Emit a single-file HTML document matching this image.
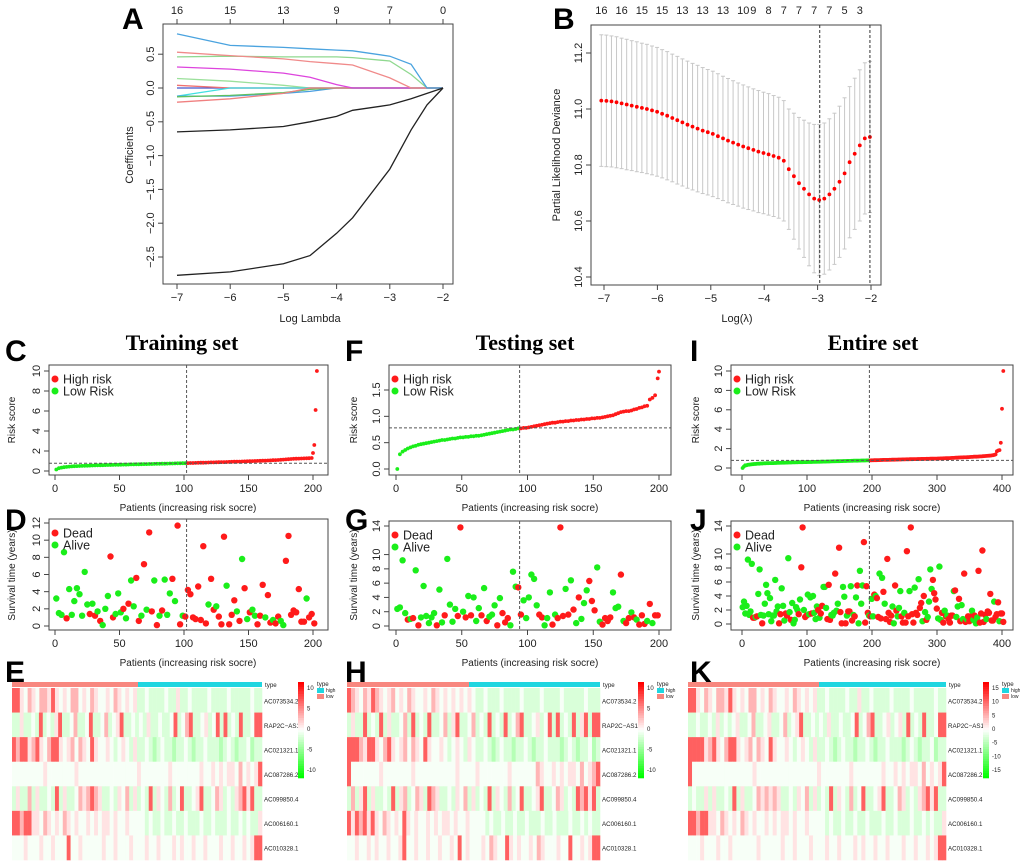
<!DOCTYPE html>
<html><head><meta charset="utf-8"><style>
html,body{margin:0;padding:0;background:#fff;}
svg{display:block;font-family:"Liberation Sans",Arial,sans-serif;}
.t{font-size:11px;fill:#222}
.lab{font-size:11px;fill:#222}
.lab2{font-size:10px;fill:#222}
.L{font-size:30px;font-weight:bold;fill:#000}
.ti{font-family:"Liberation Serif",serif;font-size:22px;font-weight:bold;fill:#000}
.hm{font-size:6.2px;fill:#222}
</style></head><body>
<svg id="fig" width="1020" height="865" viewBox="0 0 1020 865" xmlns="http://www.w3.org/2000/svg">
<text class="L" x="122" y="29">A</text>
<text class="L" x="553" y="29">B</text>
<text class="L" x="5" y="361">C</text>
<text class="L" x="5" y="530">D</text>
<text class="L" x="5" y="682">E</text>
<text class="L" x="345" y="361">F</text>
<text class="L" x="345" y="530">G</text>
<text class="L" x="345" y="682">H</text>
<text class="L" x="690" y="361">I</text>
<text class="L" x="690" y="530">J</text>
<text class="L" x="690" y="682">K</text>
<text class="ti" x="182" y="350" text-anchor="middle">Training set</text>
<text class="ti" x="525" y="350" text-anchor="middle">Testing set</text>
<text class="ti" x="873" y="350" text-anchor="middle">Entire set</text>
<text class="lab" x="310" y="322" text-anchor="middle">Log Lambda</text>
<text class="lab" transform="translate(133,155) rotate(-90)" text-anchor="middle">Coefficients</text>
<text class="lab" x="737" y="322" text-anchor="middle">Log(λ)</text>
<text class="lab" transform="translate(560,155) rotate(-90)" text-anchor="middle">Partial Likelihood Deviance</text>
<text class="lab2" x="188" y="511" text-anchor="middle">Patients (increasing risk socre)</text>
<text class="lab2" x="188" y="666" text-anchor="middle">Patients (increasing risk socre)</text>
<text class="lab2" x="530" y="511" text-anchor="middle">Patients (increasing risk socre)</text>
<text class="lab2" x="530" y="666" text-anchor="middle">Patients (increasing risk socre)</text>
<text class="lab2" x="872" y="511" text-anchor="middle">Patients (increasing risk socre)</text>
<text class="lab2" x="872" y="666" text-anchor="middle">Patients (increasing risk socre)</text>
<text class="lab2" transform="translate(15,420) rotate(-90)" text-anchor="middle">Risk score</text>
<text class="lab2" transform="translate(15,575) rotate(-90)" text-anchor="middle">Survival time (years)</text>
<text class="lab2" transform="translate(357,420) rotate(-90)" text-anchor="middle">Risk score</text>
<text class="lab2" transform="translate(357,575) rotate(-90)" text-anchor="middle">Survival time (years)</text>
<text class="lab2" transform="translate(699,420) rotate(-90)" text-anchor="middle">Risk score</text>
<text class="lab2" transform="translate(699,575) rotate(-90)" text-anchor="middle">Survival time (years)</text>
</svg>
<script>
// ---------- DATA ----------
const aLambda=[-7,-6,-5,-4.5,-4,-3.7,-3,-2.6,-2.3,-2];
const aCoefBlue=[0.80,0.63,0.60,0.58,0.56,0.55,0.47,0.35,0,0];
const aCoefPink=[0.53,0.48,0.43,0.39,0.36,0.34,0.15,0,0,0];
const aCoefGreen=[0.46,0.47,0.46,0.46,0.46,0.45,0.40,0.20,0,0];
const aCoefMagenta=[0.31,0.28,0.22,0.16,0.05,0,0,0,0,0];
const aCoefLtGreen=[0.14,0.10,0.04,0,0,0,0,0,0,0];
const aCoefRed2=[0.04,0,0,0,0,0,0,0,0,0];
const aCoefCyan=[-0.12,0,0,0,0,0,0,0,0,0];
const aCoefTeal=[-0.12,-0.12,-0.08,-0.05,0,0,0,0,0,0];
const aCoefGreen2=[-0.13,-0.11,-0.07,-0.02,0,0,0,0,0,0];
const aCoefRed3=[-0.21,-0.16,-0.08,0,0,0,0,0,0,0];
const aCoefBlack1=[-0.65,-0.62,-0.57,-0.50,-0.42,-0.33,-0.25,-0.16,-0.08,0];
const aCoefBlack2=[-2.77,-2.72,-2.60,-2.48,-2.15,-1.92,-1.20,-0.62,-0.25,0];
const aTopTicks=[-7,-6,-5,-4,-3,-2];
const aTopLabels=["16","15","13","9","7","0"];

const bMeans=[11.030,11.029,11.027,11.024,11.020,11.016,11.012,11.008,11.004,11.000,10.995,10.990,
10.983,10.976,10.968,10.960,10.952,10.944,10.937,10.930,10.923,10.917,10.911,
10.903,10.895,10.887,10.880,10.873,10.866,10.860,10.854,10.848,10.843,10.838,10.832,10.826,10.815,
10.785,10.760,10.735,10.715,10.695,10.680,10.675,10.680,10.695,10.715,10.740,10.770,10.810,10.840,10.870,10.895,10.900];
const bSE=[0.235,0.235,0.234,0.234,0.233,0.233,0.232,0.232,0.231,0.231,0.230,0.230,0.229,0.229,0.228,0.228,0.227,0.227,0.226,0.226,0.225,0.224,0.224,0.223,0.222,0.222,0.221,0.220,0.220,0.219,0.218,0.218,0.217,0.217,0.216,0.216,0.215,
0.215,0.225,0.235,0.245,0.255,0.265,0.270,0.270,0.270,0.270,0.270,0.270,0.270,0.270,0.270,0.270,0.270];
const bLogLambdaStart=-7.05, bLogLambdaStep=0.0949;
const bTopIdx=[0,4,8,12,16,20,24,28,30,33,36,39,42,45,48,51];
const bTopLabels=["16","16","15","15","13","13","13","10","9","8","7","7","7","7","5","3"];
const bVlines=[-2.96,-2.02];

const riskC=[0.15,0.28,0.34,0.38,0.41,0.44,0.46,0.48,0.49,0.50,0.51,0.52,0.53,0.54,0.55,0.56,0.57,0.57,0.58,0.59,
0.60,0.60,0.61,0.62,0.62,0.63,0.64,0.64,0.65,0.66,0.66,0.67,0.67,0.68,0.69,0.69,0.70,0.70,0.71,0.72,
0.72,0.73,0.73,0.74,0.75,0.75,0.76,0.77,0.77,0.78,0.78,0.79,0.80,0.80,0.81,0.82,0.83,0.83,0.84,0.85,
0.86,0.86,0.87,0.88,0.89,0.89,0.90,0.91,0.92,0.93,0.94,0.94,0.95,0.96,0.97,0.98,0.99,1.00,1.01,1.02,
1.03,1.04,1.05,1.06,1.08,1.09,1.10,1.12,1.14,1.16,1.18,1.20,1.22,1.23,1.24,1.25,1.26,1.27,1.28,1.30];
const riskCTail=[1.8,2.6,6.1,10.0];
const cutC=102, thrC=0.78;
const survC=[3.2,1.5,1.3,8.6,0.9,4.3,1.3,2.9,4.4,3.7,1.2,6.3,2.5,1.4,2.6,1.2,1.7,0.6,0.1,2.0,3.5,8.1,1.0,1.4,3.8,1.6,2.0,0.9,2.6,5.3,2.3,5.6,0.6,1.2,7.2,1.9,10.9,1.7,5.3,0.1,1.2,1.8,5.4,1.3,3.8,5.5,2.9,11.7,0.2,1.2,1.1,
4.2,3.7,1.0,0.8,4.6,0.7,9.3,0.3,2.5,5.5,1.9,2.3,1.1,0.2,10.4,4.7,0.2,1.3,3.0,1.7,0.6,7.8,4.4,0.8,1.6,1.9,1.2,0.2,1.2,4.8,1.0,3.6,0.4,0.7,0.3,1.1,0.6,0.1,7.6,10.5,1.3,1.8,1.6,4.3,0.5,0.5,3.2,1.0,1.4,0.3];
const deadC="000010000000010101000110001010011010110101000101101"+"11111111011011101110101010011101101100111111110111";

const riskF=[0.00,0.28,0.33,0.36,0.39,0.41,0.43,0.44,0.46,0.47,0.48,0.49,0.50,0.51,0.52,0.53,0.54,0.55,0.55,0.56,
0.57,0.58,0.58,0.59,0.60,0.60,0.61,0.61,0.62,0.62,0.63,0.63,0.64,0.65,0.66,0.67,0.68,0.69,0.70,0.71,
0.72,0.73,0.74,0.75,0.75,0.76,0.77,0.77,0.78,0.78,0.79,0.80,0.81,0.82,0.83,0.84,0.85,0.86,0.87,0.88,
0.88,0.89,0.90,0.90,0.91,0.91,0.92,0.92,0.93,0.93,0.94,0.94,0.95,0.95,0.96,0.96,0.97,0.97,0.98,0.99,
1.00,1.01,1.02,1.04,1.06,1.08,1.09,1.10,1.10,1.11,1.13,1.14,1.16,1.17,1.19,1.20,1.32,1.35,1.40,1.72];
const riskFTail=[1.85];
const cutF=94, thrF=0.78;
const survF=[2.4,2.6,9.2,1.8,0.9,1.0,1.1,7.8,0.1,1.2,5.6,1.4,0.4,1.2,1.8,0.1,5.1,0.5,1.5,9.4,3.0,0.6,2.4,1.4,13.8,2.0,1.2,4.2,1.5,4.0,0.7,2.5,1.5,5.3,0.7,1.3,1.6,2.9,0.1,3.9,1.8,0.5,1.1,0.1,7.6,5.5,5.4,1.6,3.6,1.1,
4.0,7.2,6.6,2.9,1.6,1.2,0.1,1.1,4.7,0.2,1.6,1.1,13.8,1.4,5.2,1.6,6.4,2.3,0.4,4.0,1.0,3.2,5.0,6.3,3.5,2.2,8.2,0.6,0.2,1.1,0.7,1.2,4.7,2.5,2.7,7.2,0.7,0.4,1.1,1.9,1.2,0.9,0.2,1.5,0.3,0.7,3.1,0.4,1.5,1.5];
const deadF="00001010100000010010000110101000101000101110001100"+"00001100010111010101000111001111000101101011101011";

const cutI=196, thrI=0.78;

const hmGenes=["AC073534.2","RAP2C\u2212AS1","AC021321.1","AC087286.2","AC099850.4","AC006160.1","AC010328.1"];
const hmE=[
"RRp.rp.rrpRp.p.rr.p.rp..p.rp.p.pgg.gggg.ggpgg.gggg.gggg.ggggg.gg",
"ggpgg.gRg.gpRgg.rgg.Rgg.rg.pRgg.g.gpgg.gg.Rg.rRgg.pg.RgRg.gRgg.RR",
"RrRRprRp.rRRp.pr.rp.Rp..p.g.p.gpgg.gGg.ggGgg.gGgg.gggGg.gGgg.Ggg",
"........p.......p...............p.......p.......p..p.p.pp.r.p.pR",
"gpggrgpgg.gRgpgg.rprRrpgg.gp.rgpg.gRgp.grg.Rgg.pRgg.rpg.gprRpRgg",
"RRrRRpp.rp.p.rp.p..p.p.pp.p..p....g.gg.gg.gg.ggg.gg.ggg.gg.g.ggp",
"...p...p..p...R..p.....p..p...p...p..p...p.p..p..p...p..p..p.pRR"];
const hmH=[
"Rrp.rpRrp.pr.p.rp..p.rp.p.p.p.p.gg.ggg.gggg.gggg.gggg.ggggg.ggg",
"gpggRg.gRgpgg.rgRg.gRgg.rgpRgg.rg.gRg.gRg.rRgg.pg.RgRg.gRgpRgRR",
"RRRrpRRp.rRp.pr.rp.Rp..p.g.p.gp.gg.gGg.ggGgg.gGgg.gggGg.gGgg.Gg",
"R.......p.......p..........p....p.......p......rp..p.p.pp.r.prR",
"grgpRgpgg.gRgprg.rpgRrpgg.gp.rgpg.gRgp.grg.Rgg.pRgg.rpg.gRrRpRg",
"RpRrRpRp.rp.p.Rp.p..p.p.pp.p..p....g.gg.gg.gg.ggg.gg.ggg.gg.g.gg",
"..p..p.p..p..pR..p..p..p..p.R.p...p.rp..Rp.p..p.rp...p..R..p.pRR"];
const hmK=[
"RRp.rp.rrpRp.p.rr.p.rp..p.rp.p.pgg.gggg.ggpgg.gggg.gggg.ggggg.gg",
"gg.gg.gpg.g.pgg.rgg.pgg.rg.pRgg.g.gpgg.gg.Rg.rRgg.pg.pgRg.gRgg.RR",
"RRRRprRp.rRRp.pr.rp.Rp..p.g.p.gpgg.gGg.ggGgg.gGgg.gggGg.gGgg.Ggg",
"R...............p...............p.......p.......p..p.p.pp.r.p.pR",
"g.ggpgpgg.gRgpgg.rprprpgg.gp.rgpg.gRgp.grg.Rgg.pRgg.rpg.gprRpRgg",
"RRrRRpp.rp.p.rp.p..p.p.pp.p..p....g.gg.gg.gg.ggg.gg.ggg.gg.g.ggp",
"...p...p..p......p.....p..p...p...p..p...p.p..p..p...p..p..p.pRR"];
const hmCodeVals={"G":-3.5,"g":-1.8,".":-0.4,"p":1.3,"r":3.5,"R":7.5};
const hmLegendE=["10","5","0","-5","-10"], hmLegendK=["15","10","5","0","-5","-10","-15"];

// ---------- HELPERS ----------
const NS="http://www.w3.org/2000/svg";
const svg=document.getElementById("fig");
function mk(tag,parent){const e=document.createElementNS(NS,tag);(parent||svg).appendChild(e);return e;}
function lin(d0,d1,r0,r1){return v=>r0+(v-d0)*(r1-r0)/(d1-d0);}
function box(x0,y0,x1,y1,nm){const r=mk("rect");r.setAttribute("x",x0);r.setAttribute("y",y0);r.setAttribute("width",x1-x0);r.setAttribute("height",y1-y0);r.setAttribute("fill","none");r.setAttribute("stroke","#444");r.setAttribute("stroke-width","1");


return r;}
function line(x1,y1,x2,y2,st,w,dash){const l=mk("line");l.setAttribute("x1",x1);l.setAttribute("y1",y1);l.setAttribute("x2",x2);l.setAttribute("y2",y2);l.setAttribute("stroke",st);l.setAttribute("stroke-width",w||1);if(dash)l.setAttribute("stroke-dasharray",dash);return l;}
function txt(x,y,s,cls,anchor,rot){const t=mk("text");if(rot){t.setAttribute("transform","translate("+x+","+y+") rotate(-90)");}else{t.setAttribute("x",x);t.setAttribute("y",y);}t.setAttribute("class",cls||"t");t.setAttribute("text-anchor",anchor||"middle");t.textContent=s;return t;}
function xAxis(sc,ticks,yb,pre){ticks.forEach(v=>{const l=line(sc(v),yb,sc(v),yb+5,"#444");


const t=txt(sc(v),yb+17,String(v).replace("-","\u2212"));


});}
function yAxis(sc,ticks,xb,pre,fmt){ticks.forEach(v=>{const l=line(xb-5,sc(v),xb,sc(v),"#444");


const t=txt(xb-9,sc(v),fmt?fmt(v):String(v).replace("-","\u2212"),"t","middle",true);


});}
function dot(x,y,r,c,nm){const d=mk("circle");d.setAttribute("cx",x.toFixed(1));d.setAttribute("cy",y.toFixed(1));d.setAttribute("r",r);d.setAttribute("fill",c);


return d;}
const RED="#ff1a1a", GRN="#1aee1a";

// ---------- PANEL A ----------
(function(){
const sx=lin(-7,-2,177,443), sy=lin(0,-2.5,88,257);
box(163,24,453,284,"a-plot-frame");
xAxis(sx,[-7,-6,-5,-4,-3,-2],284,"a");
yAxis(sy,[-2.5,-2,-1.5,-1,-0.5,0,0.5],163,"a",v=>v.toFixed(1).replace("-","\u2212"));
aTopTicks.forEach((v,i)=>{const l=line(sx(v),24,sx(v),19,"#444");


const t=txt(sx(v),14,aTopLabels[i]);


});
const series=[[aCoefLtGreen,"#9be09b"],[aCoefRed2,"#f07070"],[aCoefCyan,"#40e0e0"],[aCoefTeal,"#4a9fe0"],[aCoefGreen2,"#60c060"],[aCoefRed3,"#f08080"],
[aCoefMagenta,"#dd44dd"],[aCoefGreen,"#8fd88f"],[aCoefPink,"#f08a8a"],[aCoefBlue,"#4aa3df"],[aCoefBlack1,"#222"],[aCoefBlack2,"#222"]];
const zl=line(sx(-7),sy(0),sx(-2),sy(0),"#4455cc",1.3);


series.forEach(([vals,c])=>{const p=mk("polyline");p.setAttribute("points",aLambda.map((l,i)=>sx(l).toFixed(1)+","+sy(vals[i]).toFixed(1)).join(" "));p.setAttribute("fill","none");p.setAttribute("stroke",c);p.setAttribute("stroke-width","1.3");


});
})();

// ---------- PANEL B ----------
(function(){
const sx=lin(-7,-2,604,871), sy=lin(10.4,11.2,277,53);
box(591,25,881,285,"b-plot-frame");
xAxis(sx,[-7,-6,-5,-4,-3,-2],285,"b");
yAxis(sy,[10.4,10.6,10.8,11.0,11.2],591,"b",v=>v.toFixed(1));
bMeans.forEach((m,i)=>{const x=sx(bLogLambdaStart+i*bLogLambdaStep);
const e=line(x,sy(m-bSE[i]),x,sy(m+bSE[i]),"#c8c8c8",1);


const c1=line(x-2,sy(m+bSE[i]),x+2,sy(m+bSE[i]),"#c8c8c8",1);


const c2=line(x-2,sy(m-bSE[i]),x+2,sy(m-bSE[i]),"#c8c8c8",1);


});
bMeans.forEach((m,i)=>{dot(sx(bLogLambdaStart+i*bLogLambdaStep),sy(m),1.9,"#ff0000","b-deviance-point");});
bVlines.forEach(v=>{const l=line(sx(v),25,sx(v),285,"#333",1,"3,2");


});
bTopIdx.forEach((ix,i)=>{const x=sx(bLogLambdaStart+ix*bLogLambdaStep);
const t=txt(x,14,bTopLabels[i]);


});
})();

// ---------- RISK / SURVIVAL PANELS ----------
function legend(x,y,labels,cols,pre){labels.forEach((s,i)=>{dot(x,y+i*12,3.5,cols[i],pre+'-legend-marker');
const t=txt(x+8,y+i*12+4.5,s,"lab","start");
t.style.fontSize="12.5px";


});}
function riskPanel(pre,bx,sx,sy,xt,yt,pts,cut,thr,fmt){
box(bx[0],bx[1],bx[2],bx[3],pre+"-plot-frame");
xAxis(sx,xt,bx[3],pre);yAxis(sy,yt,bx[0],pre,fmt);
pts.forEach(p=>dot(sx(p[0]),sy(p[1]),1.9,p[0]>cut?RED:GRN,pre+"-risk-point"));
const h=line(bx[0],sy(thr),bx[2],sy(thr),"#555",1,"3,2");


const v=line(sx(cut),bx[1],sx(cut),bx[3],"#555",1,"3,2");


legend(bx[0]+6,bx[1]+14,["High risk","Low Risk"],[RED,GRN],pre);
}
function survPanel(pre,bx,sx,sy,xt,yt,pts,cut){
box(bx[0],bx[1],bx[2],bx[3],pre+"-plot-frame");
xAxis(sx,xt,bx[3],pre);yAxis(sy,yt,bx[0],pre);
pts.forEach(p=>dot(sx(p[0]),sy(p[1]),3.2,p[2]?RED:GRN,pre+"-survival-point"));
const v=line(sx(cut),bx[1],sx(cut),bx[3],"#555",1,"3,2");


legend(bx[0]+6,bx[1]+14,["Dead","Alive"],[RED,GRN],pre);
}
function buildRisk(main,tail,n){const r=main.map((v,i)=>[2*i+1,v]);tail.forEach((v,j)=>r.push([n-tail.length+1+j,v]));return r;}
function buildSurv(surv,dead){return surv.map((v,i)=>[2*i+1,v,dead[i]==="1"]);}
const ptsC=buildRisk(riskC,riskCTail,203), ptsF=buildRisk(riskF,riskFTail,200);
const ptsD=buildSurv(survC,deadC), ptsG=buildSurv(survF,deadF);

riskPanel("c",[49,365,328,475],lin(0,200,55,313),lin(0,10,471,371),[0,50,100,150,200],[0,2,4,6,8,10],ptsC,cutC,thrC);
survPanel("d",[49,519,328,630],lin(0,200,55,313),lin(0,12,626,523),[0,50,100,150,200],[0,2,4,6,8,10,12],ptsD,cutC);
riskPanel("f",[389,365,671,475],lin(0,200,396,659),lin(0,1.5,469,390),[0,50,100,150,200],[0,0.5,1,1.5],ptsF,cutF,thrF,v=>v.toFixed(1));
survPanel("g",[389,521,671,630],lin(0,200,396,659),lin(0,14,626,526),[0,50,100,150,200],[0,2,4,6,8,10,14],ptsG,cutF);

// Entire set = merge of training + testing, ranked by risk score
(function(){
function riskAt(pts,p){let best=pts[0];pts.forEach(q=>{if(Math.abs(q[0]-p)<Math.abs(best[0]-p))best=q;});return best[1];}
const allR=ptsC.map(p=>p[1]).concat(ptsF.map(p=>p[1])).sort((a,b)=>a-b);
const nI=403, k=nI/allR.length;
const ptsI=allR.map((v,i)=>[(i+0.5)*k,v]);
riskPanel("i",[731,365,1013,475],lin(0,400,742,1002),lin(0,10,468,371),[0,100,200,300,400],[0,2,4,6,8,10],ptsI,cutI,thrI);
const sv=ptsD.map(p=>[riskAt(ptsC,p[0]),p[1],p[2]]).concat(ptsG.map(p=>[riskAt(ptsF,p[0]),p[1],p[2]])).sort((a,b)=>a[0]-b[0]);
const k2=nI/sv.length;
const ptsJ=sv.map((p,i)=>[(i+0.5)*k2,p[1],p[2]]);
survPanel("j",[731,521,1013,630],lin(0,400,742,1002),lin(0,14,624,526),[0,100,200,300,400],[0,2,4,6,8,10,14],ptsJ,cutI);
})();

// ---------- HEATMAPS ----------
function hmColor(v){const t=Math.min(Math.abs(v)/12,1);const c=Math.round(255*(1-t));return v>=0?"rgb(255,"+c+","+c+")":"rgb("+c+",255,"+c+")";}
function heatmap(pre,rows,x0,x1,split,cbx,ticks){
const y0=688,y1=860,rh=(y1-y0)/rows.length;
const tb1=mk("rect");tb1.setAttribute("x",x0);tb1.setAttribute("y",682);tb1.setAttribute("width",split-x0);tb1.setAttribute("height",5);tb1.setAttribute("fill","#f8877f");


const tb2=mk("rect");tb2.setAttribute("x",split);tb2.setAttribute("y",682);tb2.setAttribute("width",x1-split);tb2.setAttribute("height",5);tb2.setAttribute("fill","#1fd6e0");


const tl=txt(x1+3,687,"type","hm","start");


rows.forEach((s,r)=>{const cw=(x1-x0)/s.length;
for(let i=0;i<s.length;i++){const c=mk("rect");c.setAttribute("x",(x0+i*cw).toFixed(2));c.setAttribute("y",(y0+r*rh).toFixed(2));c.setAttribute("width",(cw+0.3).toFixed(2));c.setAttribute("height",(rh+0.3).toFixed(2));c.setAttribute("fill",hmColor(hmCodeVals[s[i]]));


}
const g=txt(x1+2,y0+r*rh+rh/2+3,hmGenes[r],"hm","start");


});
// color bar
const steps=40,cy0=682,cy1=778;
for(let i=0;i<steps;i++){const v=12-24*i/(steps-1);const c=mk("rect");c.setAttribute("x",cbx);c.setAttribute("y",(cy0+i*(cy1-cy0)/steps).toFixed(2));c.setAttribute("width",6);c.setAttribute("height",((cy1-cy0)/steps+0.3).toFixed(2));c.setAttribute("fill",hmColor(v));


}
ticks.forEach((s,i)=>{const t=txt(cbx+9,cy0+8+i*(cy1-cy0-14)/(ticks.length-1),s,"hm","start");
t.style.fontSize="6px";


});
const lt=txt(cbx+19,686,"type","hm","start");


[["#1fd6e0","high"],["#f8877f","low"]].forEach((e,i)=>{const r=mk("rect");r.setAttribute("x",cbx+19);r.setAttribute("y",688+i*6);r.setAttribute("width",7);r.setAttribute("height",5);r.setAttribute("fill",e[0]);


const t=txt(cbx+28,692+i*6,e[1],"hm","start");t.style.fontSize="5px";


});
}
heatmap("e",hmE,12,262,138,298,hmLegendE);
heatmap("h",hmH,347,600,469,638,hmLegendE);
heatmap("k",hmK,688,946,819,983,hmLegendK);
</script>
</body></html>
